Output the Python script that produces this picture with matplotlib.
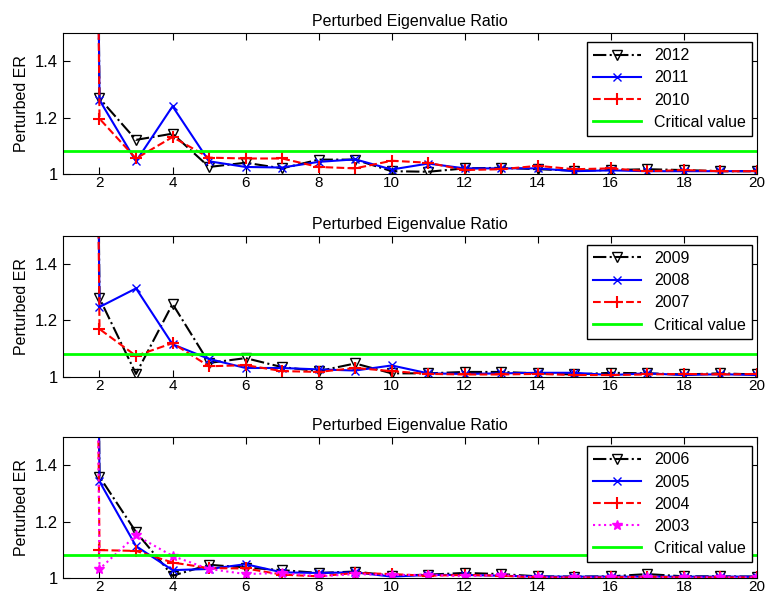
import matplotlib
matplotlib.use("Agg")
import matplotlib.pyplot as plt
import numpy as np

plt.rcParams['font.family'] = ['Liberation Sans', 'DejaVu Sans']

x = np.arange(1, 21)
critical = 1.08

# panel 1
y2012 = [15, 1.268, 1.121, 1.143, 1.025, 1.040, 1.020, 1.051, 1.051, 1.010, 1.008,
         1.020, 1.022, 1.017, 1.012, 1.014, 1.017, 1.014, 1.010, 1.010]
y2011 = [15, 1.262, 1.045, 1.240, 1.045, 1.025, 1.023, 1.043, 1.052, 1.016, 1.037,
         1.020, 1.020, 1.020, 1.010, 1.013, 1.010, 1.010, 1.010, 1.010]
y2010 = [15, 1.196, 1.055, 1.131, 1.058, 1.055, 1.055, 1.025, 1.020, 1.047, 1.040,
         1.014, 1.017, 1.029, 1.017, 1.020, 1.010, 1.014, 1.010, 1.010]

# panel 2
y2009 = [15, 1.278, 1.010, 1.258, 1.049, 1.066, 1.034, 1.020, 1.047, 1.012, 1.012,
         1.017, 1.017, 1.012, 1.008, 1.014, 1.012, 1.008, 1.012, 1.008]
y2008 = [15, 1.247, 1.313, 1.115, 1.063, 1.031, 1.031, 1.026, 1.022, 1.040, 1.012,
         1.010, 1.012, 1.014, 1.014, 1.006, 1.012, 1.006, 1.009, 1.006]
y2007 = [15, 1.169, 1.074, 1.119, 1.037, 1.041, 1.020, 1.017, 1.031, 1.020, 1.010,
         1.008, 1.008, 1.010, 1.006, 1.006, 1.008, 1.010, 1.008, 1.010]

# panel 3
y2006 = [15, 1.359, 1.163, 1.008, 1.047, 1.037, 1.028, 1.018, 1.023, 1.008, 1.012,
         1.018, 1.014, 1.006, 1.005, 1.006, 1.014, 1.006, 1.006, 1.005]
y2005 = [15, 1.342, 1.113, 1.028, 1.032, 1.049, 1.020, 1.018, 1.020, 1.005, 1.011,
         1.011, 1.008, 1.005, 1.005, 1.005, 1.005, 1.005, 1.005, 1.005]
y2004 = [15, 1.099, 1.096, 1.055, 1.035, 1.034, 1.012, 1.006, 1.018, 1.014, 1.008,
         1.011, 1.008, 1.002, 1.002, 1.002, 1.005, 1.002, 1.002, 1.002]
y2003 = [15, 1.032, 1.151, 1.078, 1.032, 1.014, 1.018, 1.006, 1.014, 1.011, 1.011,
         1.006, 1.011, 1.002, 1.002, 1.002, 1.002, 1.002, 1.002, 1.002]

panels = [
    [('2012', y2012), ('2011', y2011), ('2010', y2010)],
    [('2009', y2009), ('2008', y2008), ('2007', y2007)],
    [('2006', y2006), ('2005', y2005), ('2004', y2004), ('2003', y2003)],
]

styles = [
    dict(color='black', linestyle='-.', marker='v', markerfacecolor='none', markersize=7),
    dict(color='blue', linestyle='-', marker='x', markersize=5.5),
    dict(color='red', linestyle='--', marker='+', markersize=9, markeredgewidth=1.5),
    dict(color='magenta', linestyle=':', marker='*', markersize=7),
]

fig = plt.figure(figsize=(7.67, 5.98), dpi=100)
bottoms = [0.7090, 0.3700, 0.0334]

for p, bot in zip(panels, bottoms):
    ax = fig.add_axes([0.0821, bot, 0.9048, 0.236])
    for (lab, ys), st in zip(p, styles):
        ax.plot(x, ys, linewidth=1.5, label=lab, **st)
    ax.axhline(critical, color=(0, 1, 0), linewidth=2, label='Critical value')
    ax.set_xlim(1, 20)
    ax.set_ylim(1, 1.5)
    ax.set_xticks(np.arange(2, 21, 2))
    ax.set_yticks([1, 1.2, 1.4])
    ax.set_yticklabels(['1', '1.2', '1.4'])
    ax.tick_params(direction='in', top=True, right=True, length=5)
    ax.tick_params(axis='y', labelsize=12)
    ax.tick_params(axis='x', labelsize=11, pad=1.5)
    ax.set_title('Perturbed Eigenvalue Ratio', fontsize=11.5, pad=5)
    ax.set_ylabel('Perturbed ER', fontsize=11.5)
    leg = ax.legend(loc='upper right', bbox_to_anchor=(0.993, 0.936), borderaxespad=0,
                    fontsize=11.5, handlelength=3.0, fancybox=False, framealpha=1,
                    labelspacing=0.45)
    leg.get_frame().set_edgecolor('black')
    leg.get_frame().set_linewidth(1)

fig.savefig('out.png', dpi=100)
